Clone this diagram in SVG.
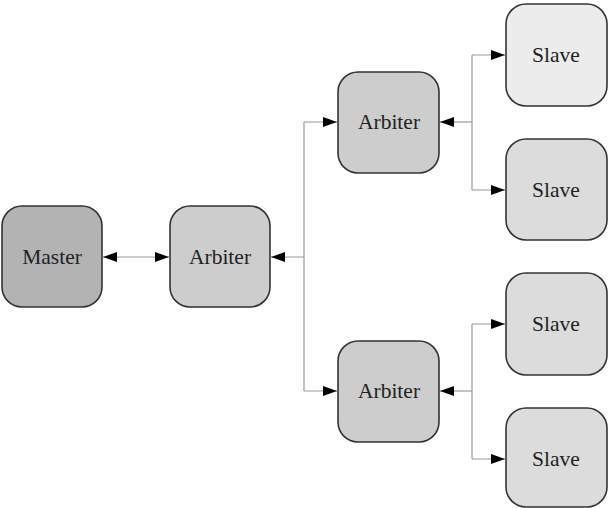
<svg xmlns="http://www.w3.org/2000/svg" width="609" height="508" viewBox="0 0 609 508">
<defs>
<marker id="ah" viewBox="0 0 14 10" refX="14" refY="5" markerWidth="14" markerHeight="10" markerUnits="userSpaceOnUse" orient="auto-start-reverse">
<path d="M0,0 L14,5 L0,10 Z" fill="#000"/>
</marker>
<style>
.n rect{stroke:#333;stroke-width:1.6}
.n text{font-family:"Liberation Serif","Times New Roman",serif;font-size:21.5px;fill:#222;text-anchor:middle;dominant-baseline:central}
.c{fill:none;stroke:#999;stroke-width:1.2}
</style>
</defs>
<rect width="609" height="508" fill="#fff"/>
<g id="connectors">
<path class="c" d="M103,257 H169" marker-start="url(#ah)" marker-end="url(#ah)"/>
<path class="c" d="M304,257 H271" marker-end="url(#ah)"/>
<path class="c" d="M304,122 V391"/>
<path class="c" d="M304,122 H337" marker-end="url(#ah)"/>
<path class="c" d="M304,391 H337" marker-end="url(#ah)"/>
<path class="c" d="M472,122 H440" marker-end="url(#ah)"/>
<path class="c" d="M472,55 V190"/>
<path class="c" d="M472,55 H505" marker-end="url(#ah)"/>
<path class="c" d="M472,190 H505" marker-end="url(#ah)"/>
<path class="c" d="M472,391 H440" marker-end="url(#ah)"/>
<path class="c" d="M472,324 V459"/>
<path class="c" d="M472,324 H505" marker-end="url(#ah)"/>
<path class="c" d="M472,459 H505" marker-end="url(#ah)"/>
</g>
<g id="master" class="n"><rect x="2" y="206" width="100" height="101" rx="20" fill="#b3b3b3"/><text x="52" y="257">Master</text></g>
<g id="arbiter0" class="n"><rect x="170" y="206" width="100" height="101" rx="20" fill="#cdcdcd"/><text x="220" y="257">Arbiter</text></g>
<g id="arbiter1" class="n"><rect x="338" y="72" width="101" height="101" rx="20" fill="#cdcdcd"/><text x="389" y="122">Arbiter</text></g>
<g id="arbiter2" class="n"><rect x="338" y="341" width="101" height="101" rx="20" fill="#cdcdcd"/><text x="389" y="391">Arbiter</text></g>
<g id="slave1" class="n"><rect x="506" y="4" width="101" height="102" rx="20" fill="#ececec"/><text x="556" y="55">Slave</text></g>
<g id="slave2" class="n"><rect x="506" y="139" width="101" height="101" rx="20" fill="#dcdcdc"/><text x="556" y="190">Slave</text></g>
<g id="slave3" class="n"><rect x="506" y="273" width="101" height="102" rx="20" fill="#dcdcdc"/><text x="556" y="324">Slave</text></g>
<g id="slave4" class="n"><rect x="506" y="408" width="101" height="99" rx="20" fill="#dcdcdc"/><text x="556" y="459">Slave</text></g>
</svg>
